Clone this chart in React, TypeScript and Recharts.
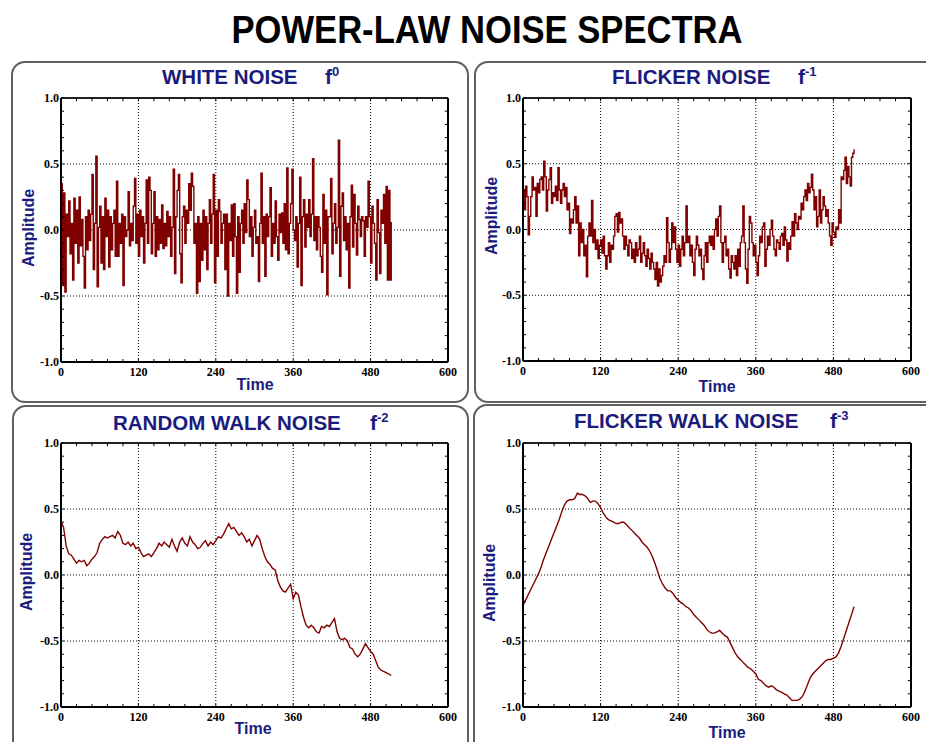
import React from 'react';
import { LineChart, Line, XAxis, YAxis, ReferenceLine } from 'recharts';

// Sampled amplitudes for each noise type (white / flicker sampled every 2, walks every 4)
const whiteNoise = [
  0.35, -0.42, 0.28, -0.47, 0.12, -0.05, 0.22, -0.18, 0.05, -0.38, 0.24, -0.1, 0.15, -0.25, 0.25, -0.12,
  0.08, -0.2, -0.44, 0.1, -0.15, 0.15, -0.08, 0.12, 0.42, -0.3, 0.05, 0.56, -0.43, 0.02, 0.18, -0.25,
  0.1, -0.3, 0.24, -0.05, 0.15, -0.28, 0.1, -0.15, 0.05, 0.15, -0.2, 0.37, -0.2, 0.05, -0.1, 0.12,
  -0.42, 0.1, -0.05, 0.0, 0.29, -0.12, 0.05, -0.08, 0.18, 0.39, -0.1, 0.12, -0.2, 0.15, -0.05, 0.1,
  -0.25, 0.05, 0.38, -0.1, 0.4, 0.3, -0.18, 0.05, 0.29, -0.2, 0.1, -0.15, 0.08, -0.1, 0.19, -0.14,
  0.05, -0.12, 0.14, -0.05, 0.1, -0.2, 0.02, 0.46, -0.33, 0.1, 0.3, 0.42, -0.18, -0.4, 0.1, 0.18,
  -0.1, 0.15, 0.05, 0.35, 0.15, 0.43, 0.33, -0.1, 0.05, -0.48, 0.1, -0.39, 0.05, -0.23, 0.15, -0.15,
  0.1, -0.3, 0.05, 0.23, -0.1, 0.12, 0.42, -0.4, 0.15, -0.2, 0.23, 0.14, -0.1, 0.05, 0.12, -0.3,
  0.12, -0.5, 0.05, -0.08, 0.19, -0.2, 0.2, -0.05, -0.48, 0.1, -0.32, 0.05, 0.15, -0.1, 0.2, -0.02,
  0.38, 0.23, -0.05, 0.1, -0.2, 0.02, 0.15, -0.1, -0.05, -0.39, 0.05, 0.43, -0.1, 0.1, -0.35, 0.12,
  -0.05, 0.1, 0.32, -0.2, 0.05, -0.1, 0.22, -0.05, -0.23, 0.12, -0.02, 0.13, -0.1, 0.2, -0.15, 0.47,
  -0.18, 0.05, 0.2, 0.46, 0.0, -0.08, 0.1, -0.28, 0.05, 0.4, -0.42, 0.1, 0.23, -0.13, 0.12, 0.02,
  0.23, -0.05, 0.12, 0.54, -0.08, 0.1, -0.15, 0.1, 0.02, -0.2, -0.32, 0.27, -0.1, 0.15, -0.49, 0.1,
  0.1, 0.39, -0.18, 0.05, 0.2, -0.1, 0.02, 0.68, -0.35, 0.18, 0.28, -0.08, 0.1, -0.15, 0.05, -0.44,
  0.1, 0.34, -0.13, 0.27, 0.05, -0.19, 0.18, 0.08, -0.05, 0.1, 0.07, -0.2, 0.1, 0.02, 0.37, 0.1,
  -0.25, 0.18, 0.05, -0.1, -0.38, 0.23, -0.02, -0.33, 0.15, 0.05, 0.27, -0.1, 0.33, -0.38, 0.3, -0.38,
  0.06,
];

const flickerNoise = [
  0.3, 0.15, 0.33, 0.25, -0.04, 0.1, 0.25, 0.4, 0.3, 0.32, 0.1, 0.35, 0.28, 0.38, 0.4, 0.3,
  0.52, 0.4, 0.14, 0.3, 0.38, 0.47, 0.2, 0.28, 0.25, 0.33, 0.22, 0.47, 0.3, 0.2, 0.3, 0.35,
  0.25, 0.32, 0.15, 0.2, -0.03, 0.08, 0.05, 0.15, 0.25, 0.05, 0.18, -0.2, 0.05, -0.1, 0.0, -0.2,
  -0.12, -0.36, -0.05, 0.05, -0.05, 0.22, -0.1, 0.0, -0.15, -0.08, -0.22, -0.12, -0.08, -0.18, -0.05, -0.2,
  -0.3, -0.2, -0.1, -0.25, -0.12, -0.15, -0.05, 0.1, 0.12, -0.02, 0.13, 0.05, 0.08, -0.05, -0.15, -0.05,
  -0.12, -0.2, -0.08, -0.1, -0.22, -0.15, -0.25, -0.1, -0.2, -0.15, -0.05, -0.25, -0.18, -0.1, -0.2, -0.28,
  -0.15, -0.22, -0.3, -0.18, -0.25, -0.3, -0.38, -0.25, -0.43, -0.3, -0.4, -0.35, -0.28, -0.2, -0.25, 0.09,
  -0.1, -0.25, -0.15, 0.05, -0.1, 0.02, -0.15, -0.25, -0.12, -0.28, -0.15, -0.05, -0.2, -0.1, 0.18, -0.1,
  -0.05, -0.2, -0.12, -0.25, -0.35, -0.15, -0.05, -0.12, -0.2, -0.15, -0.3, -0.38, -0.2, -0.1, -0.25, -0.1,
  -0.05, -0.12, -0.05, -0.15, 0.0, 0.08, -0.05, 0.1, 0.18, -0.1, -0.25, -0.1, -0.05, -0.2, -0.15, -0.3,
  -0.37, -0.2, -0.25, -0.3, -0.2, -0.35, -0.15, -0.28, -0.1, -0.05, 0.18, -0.1, -0.3, -0.41, -0.15, 0.1,
  0.05, -0.1, -0.2, -0.12, -0.25, -0.35, -0.2, -0.05, -0.1, 0.02, 0.05, -0.28, -0.15, -0.05, -0.12, 0.0,
  0.07, -0.05, -0.15, -0.2, -0.08, -0.1, -0.15, -0.05, -0.03, -0.12, 0.02, -0.08, -0.24, -0.1, -0.15, -0.05,
  0.06, -0.05, 0.12, 0.05, 0.0, 0.1, 0.08, 0.2, 0.15, 0.25, 0.3, 0.22, 0.35, 0.28, 0.32, 0.42,
  0.3, 0.15, 0.25, 0.02, 0.1, 0.3, 0.05, 0.15, 0.25, 0.18, 0.1, 0.15, 0.05, -0.05, -0.12, 0.05,
  -0.02, -0.06, 0.02, 0.0, 0.15, 0.05, 0.4, 0.38, 0.45, 0.55, 0.35, 0.48, 0.4, 0.33, 0.55, 0.58,
  0.61,
];

const randomWalk = [
  0.41, 0.36, 0.22, 0.16, 0.15, 0.12, 0.09, 0.11, 0.1, 0.11, 0.07, 0.09, 0.12, 0.14, 0.17, 0.24,
  0.27, 0.29, 0.28, 0.29, 0.3, 0.28, 0.33, 0.3, 0.24, 0.23, 0.25, 0.22, 0.24, 0.2, 0.21, 0.17,
  0.14, 0.15, 0.16, 0.14, 0.17, 0.2, 0.24, 0.22, 0.25, 0.23, 0.21, 0.27, 0.22, 0.18, 0.25, 0.28,
  0.24, 0.22, 0.29, 0.25, 0.23, 0.2, 0.21, 0.24, 0.26, 0.22, 0.25, 0.23, 0.26, 0.29, 0.28, 0.31,
  0.35, 0.39, 0.35, 0.36, 0.33, 0.3, 0.32, 0.29, 0.25, 0.27, 0.22, 0.26, 0.3, 0.27, 0.2, 0.14,
  0.1, 0.08, 0.05, 0.04, -0.04, -0.09, -0.12, -0.13, -0.1, -0.07, -0.18, -0.13, -0.15, -0.24, -0.32, -0.38,
  -0.4, -0.38, -0.4, -0.43, -0.44, -0.39, -0.4, -0.38, -0.39, -0.36, -0.33, -0.43, -0.48, -0.49, -0.48, -0.5,
  -0.55, -0.56, -0.6, -0.62, -0.6, -0.56, -0.52, -0.55, -0.58, -0.6, -0.65, -0.7, -0.72, -0.73, -0.74, -0.75,
  -0.76,
];

const flickerWalk = [
  -0.23, -0.19, -0.15, -0.11, -0.07, -0.03, 0.01, 0.06, 0.12, 0.17, 0.22, 0.27, 0.32, 0.37, 0.42, 0.48,
  0.53, 0.56, 0.57, 0.57, 0.58, 0.62, 0.61, 0.61, 0.6, 0.58, 0.55, 0.56, 0.56, 0.54, 0.51, 0.47,
  0.44, 0.42, 0.41, 0.4, 0.39, 0.39, 0.4, 0.4, 0.38, 0.36, 0.34, 0.32, 0.3, 0.28, 0.25, 0.23,
  0.21, 0.18, 0.14, 0.09, 0.03, -0.03, -0.07, -0.1, -0.12, -0.12, -0.14, -0.17, -0.19, -0.21, -0.22, -0.24,
  -0.25, -0.27, -0.3, -0.32, -0.34, -0.36, -0.38, -0.41, -0.43, -0.44, -0.44, -0.43, -0.42, -0.44, -0.46, -0.47,
  -0.51, -0.55, -0.59, -0.62, -0.64, -0.66, -0.68, -0.7, -0.71, -0.73, -0.75, -0.79, -0.8, -0.82, -0.84, -0.85,
  -0.84, -0.85, -0.87, -0.88, -0.89, -0.9, -0.91, -0.93, -0.95, -0.95, -0.95, -0.94, -0.92, -0.88, -0.83, -0.78,
  -0.75, -0.73, -0.71, -0.69, -0.67, -0.65, -0.64, -0.64, -0.63, -0.62, -0.59, -0.54, -0.48, -0.42, -0.36, -0.3,
  -0.24,
];

// Axis tick positions (labels are drawn on every 5th x tick and every 5th y tick)
const xTicks = [0, 24, 48, 72, 96, 120, 144, 168, 192, 216, 240, 264, 288, 312, 336, 360, 384, 408, 432, 456, 480, 504, 528, 552, 576, 600];
const yTicks = [-1, -0.9, -0.8, -0.7, -0.6, -0.5, -0.4, -0.3, -0.2, -0.1, 0, 0.1, 0.2, 0.3, 0.4, 0.5, 0.6, 0.7, 0.8, 0.9, 1];
const xLabelled = [0, 120, 240, 360, 480, 600];
const yLabelled = [-1, -0.5, 0, 0.5, 1];
const xGrid = [120, 240, 360, 480];
const yGrid = [-0.5, 0, 0.5];

const X_MAX = 600, Y_MAX = 1;
// inward tick length on the top / right frame edges, in axis units
const TOP_TICK = 0.025, RIGHT_TICK = 5;

const NAVY = '#1b1b7d';
const RED = '#800000';
const ML = 45, MR = 15, MT = 10, MB = 25;

const toRows = (vals: number[], step: number) => vals.map((v, i) => ({ t: i * step, v }));

type Spec = {
  title: string; exp: string; values: number[]; step: number; curve: 'stepAfter' | 'linear';
  frame: [number, number, number, number];
  plot: [number, number, number, number];
  titleX: number; fX: number; titleY: number;
  ampX: number; ampY: number; timeX: number; timeY: number;
};

const panels: Spec[] = [
  { title: 'WHITE NOISE', exp: '0', values: whiteNoise, step: 2, curve: 'stepAfter',
    frame: [11, 61, 458, 342], plot: [61, 98, 387, 264],
    titleX: 162, fX: 325, titleY: 77, ampX: 29, ampY: 228, timeX: 255, timeY: 385 },
  { title: 'FLICKER NOISE', exp: '-1', values: flickerNoise, step: 2, curve: 'stepAfter',
    frame: [474, 61, 470, 342], plot: [523, 98, 388, 263],
    titleX: 612, fX: 798, titleY: 77, ampX: 492, ampY: 216, timeX: 717, timeY: 387 },
  { title: 'RANDOM WALK NOISE', exp: '-2', values: randomWalk, step: 4, curve: 'linear',
    frame: [12, 405, 457, 360], plot: [61, 443, 387, 264],
    titleX: 113, fX: 370, titleY: 423, ampX: 27, ampY: 572, timeX: 253, timeY: 729 },
  { title: 'FLICKER WALK NOISE', exp: '-3', values: flickerWalk, step: 4, curve: 'linear',
    frame: [473, 404, 470, 360], plot: [523, 443, 388, 264],
    titleX: 574, fX: 830, titleY: 421, ampX: 490, ampY: 583, timeX: 727, timeY: 733 },
];

const tickFont = { fontFamily: '"Liberation Serif", "DejaVu Serif", serif', fontWeight: 700, fontSize: 12 };
const headFont = '"Liberation Sans", Arial, sans-serif';

function Panel({ s }: { s: Spec }) {
  const [pl, pt, pw, ph] = s.plot;
  const width = pw + ML + MR;
  const height = ph + MT + MB;
  const plotBottom = MT + ph;
  const data = toRows(s.values, s.step);

  const xTick = (p: any) => {
    const v = p.payload.value;
    if (!xLabelled.includes(v)) return <g />;
    return (
      <text x={p.x} y={plotBottom + 14} textAnchor="middle" fill="#000" {...tickFont}>{v}</text>
    );
  };
  const yTick = (p: any) => {
    const v = p.payload.value;
    if (!yLabelled.some((l) => Math.abs(l - v) < 1e-9)) return <g />;
    return (
      <text x={ML - 2} y={p.y + 4} textAnchor="end" fill="#000" {...tickFont}>{v.toFixed(1)}</text>
    );
  };

  return (
    <>
      <div style={{
        position: 'absolute', left: s.frame[0], top: s.frame[1], width: s.frame[2], height: s.frame[3],
        border: '2px solid #5f5f5f', borderRadius: 14, boxSizing: 'border-box',
      }} />
      <div style={{ position: 'absolute', left: pl - ML, top: pt - MT }}>
        <LineChart width={width} height={height} data={data} margin={{ top: MT, right: MR, bottom: MB, left: ML }}>
          {xGrid.map((x) => (
            <ReferenceLine key={'gx' + x} x={x} stroke="#000" strokeWidth={1} strokeDasharray="1 2" />
          ))}
          {yGrid.map((y) => (
            <ReferenceLine key={'gy' + y} y={y} stroke="#000" strokeWidth={1} strokeDasharray="1 2" />
          ))}
          {/* top and right edges of the plot frame, with inward minor ticks */}
          <ReferenceLine y={Y_MAX} stroke="#222" strokeWidth={2} />
          <ReferenceLine x={X_MAX} stroke="#000" strokeWidth={2} />
          {xTicks.map((x) => (
            <ReferenceLine key={'tt' + x} segment={[{ x, y: Y_MAX }, { x, y: Y_MAX - TOP_TICK }]} stroke="#000" strokeWidth={1} />
          ))}
          {yTicks.map((y) => (
            <ReferenceLine key={'rt' + y} segment={[{ x: X_MAX, y }, { x: X_MAX - RIGHT_TICK, y }]} stroke="#000" strokeWidth={1} />
          ))}
          <XAxis dataKey="t" type="number" domain={[0, X_MAX]} ticks={xTicks} interval={0} mirror
            tickSize={3} tickLine={{ stroke: '#000' }} axisLine={{ stroke: '#000', strokeWidth: 2 }} tick={xTick} height={20} />
          <YAxis type="number" domain={[-Y_MAX, Y_MAX]} ticks={yTicks} interval={0} mirror
            tickSize={3} tickLine={{ stroke: '#000' }} axisLine={{ stroke: '#000', strokeWidth: 2 }} tick={yTick} width={30} />
          <Line type={s.curve} dataKey="v" stroke={RED} strokeWidth={1.4} dot={false} activeDot={false} isAnimationActive={false} />
        </LineChart>
      </div>
      <div style={{ position: 'absolute', left: s.titleX, top: s.titleY - 13, height: 26, lineHeight: '26px',
        fontFamily: headFont, fontWeight: 700, fontSize: 20.5, color: NAVY, whiteSpace: 'nowrap' }}>
        {s.title}
      </div>
      <div style={{ position: 'absolute', left: s.fX, top: s.titleY - 13, height: 26, lineHeight: '26px',
        fontFamily: headFont, fontWeight: 700, fontSize: 21, color: NAVY, whiteSpace: 'nowrap' }}>
        f<span style={{ fontSize: 13, position: 'relative', top: -8 }}>{s.exp}</span>
      </div>
      <div style={{ position: 'absolute', left: s.ampX - 60, top: s.ampY - 10, width: 120, height: 20, lineHeight: '20px',
        textAlign: 'center', transform: 'rotate(-90deg)', fontFamily: headFont, fontWeight: 700, fontSize: 16, color: NAVY }}>
        Amplitude
      </div>
      <div style={{ position: 'absolute', left: s.timeX - 40, top: s.timeY - 10, width: 80, height: 20, lineHeight: '20px',
        textAlign: 'center', fontFamily: headFont, fontWeight: 700, fontSize: 16, color: NAVY }}>
        Time
      </div>
    </>
  );
}

export default function App() {
  return (
    <div style={{ position: 'absolute', left: 0, top: 0, width: 926, height: 742, overflow: 'hidden', background: '#fff' }}>
      <div style={{ position: 'absolute', left: 0, top: 10, width: 974, height: 40, lineHeight: '40px', textAlign: 'center',
        fontFamily: headFont, fontWeight: 700, fontSize: 38, color: '#000', transform: 'scaleX(0.91)', transformOrigin: '487px 20px',
        whiteSpace: 'nowrap' }}>
        POWER-LAW NOISE SPECTRA
      </div>
      {panels.map((s) => <Panel key={s.title} s={s} />)}
    </div>
  );
}
